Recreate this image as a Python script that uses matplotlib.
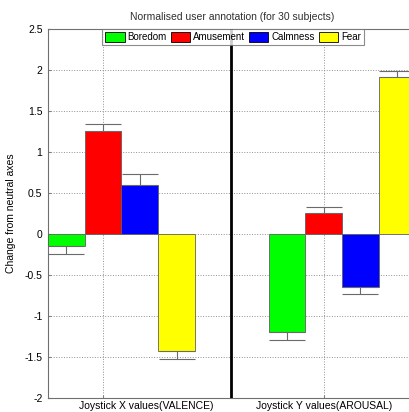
import matplotlib
matplotlib.use('Agg')
import matplotlib.pyplot as plt
import numpy as np

plt.rcParams.update({
    'font.family': ['Liberation Sans', 'DejaVu Sans'],
    'font.size': 7.5,
})

EMOTIONS = ["Boredom", "Amusement", "Calmness", "Fear"]
COLORS = ["#00ff00", "#ff0000", "#0000ff", "#ffff00"]
GROUPS = ["Joystick X values(VALENCE)", "Joystick Y values(AROUSAL)"]

# mean change per emotion for valence (x) and arousal (y)
valence = [-0.15, 1.25, 0.60, -1.43]
arousal = [-1.20, 0.26, -0.65, 1.92]
valence_err = [0.10, 0.09, 0.13, 0.10]
arousal_err = [0.09, 0.07, 0.09, 0.07]

fig = plt.figure(figsize=(4.09, 4.12), dpi=100)
ax = fig.add_axes([0.1174, 0.0347, 0.8826, 0.8949])

n = len(EMOTIONS)
width = 0.1665
centers = np.array([1.0, 2.0])
means = np.array([valence, arousal])
errs = np.array([valence_err, arousal_err])

for i in range(n):
    xs = centers + (i - (n - 1) / 2) * width
    ax.bar(xs, means[:, i], width, color=COLORS[i], edgecolor='#606060',
           linewidth=0.6, label=EMOTIONS[i], zorder=3)
    # one-sided error bars, pointing away from zero
    lower = np.where(means[:, i] < 0, errs[:, i], 0)
    upper = np.where(means[:, i] >= 0, errs[:, i], 0)
    ax.errorbar(xs, means[:, i], yerr=[lower, upper], fmt='none',
                ecolor='#6a6a6a', elinewidth=0.8, capsize=13.2,
                capthick=0.8, zorder=4)

ax.axvline(1.497, color='black', linewidth=2, zorder=5)

ax.set_xlim(0.667, 2.304)
ax.set_ylim(-2, 2.5)
ax.set_yticks(np.arange(-2, 2.51, 0.5))
ax.set_yticklabels(['-2', '-1.5', '-1', '-0.5', '0', '0.5', '1', '1.5', '2', '2.5'])
ax.set_xticks([0.917, 1.918])
ax.set_xticklabels([])
ax.tick_params(direction='in', length=2, color='#808080', labelsize=7.5, pad=4)
ax.grid(True, linestyle=':', color='#909090', linewidth=0.7, zorder=0)

for s in ['left', 'bottom', 'top']:
    ax.spines[s].set_color('#707070')
    ax.spines[s].set_linewidth(0.8)
ax.spines['right'].set_visible(False)

trans = matplotlib.transforms.blended_transform_factory(ax.transData, ax.transAxes)
ax.text(1.111, -0.009, GROUPS[0], transform=trans, ha='center', va='top', fontsize=7.5)
ax.text(1.92, -0.009, GROUPS[1], transform=trans, ha='center', va='top', fontsize=7.5)

ax.set_ylabel('Change from neutral axes', fontsize=7.5, labelpad=6)
fig.text(232 / 409, 1 - 17 / 412, 'Normalised user annotation (for 30 subjects)',
         ha='center', va='center', fontsize=7.5, color='#303030')

leg = ax.legend(loc='upper center', bbox_to_anchor=(233 / 409, 1 - 29 / 412),
                bbox_transform=fig.transFigure, ncol=4, fontsize=7, frameon=True,
                fancybox=False, edgecolor='#707070', handlelength=2.0,
                handleheight=1.2, handletextpad=0.3, columnspacing=0.4,
                borderpad=0.3, borderaxespad=0.0)
leg.get_frame().set_linewidth(0.8)
for h in leg.legend_handles:
    h.set_edgecolor('black')

plt.savefig('out.png', dpi=100)
